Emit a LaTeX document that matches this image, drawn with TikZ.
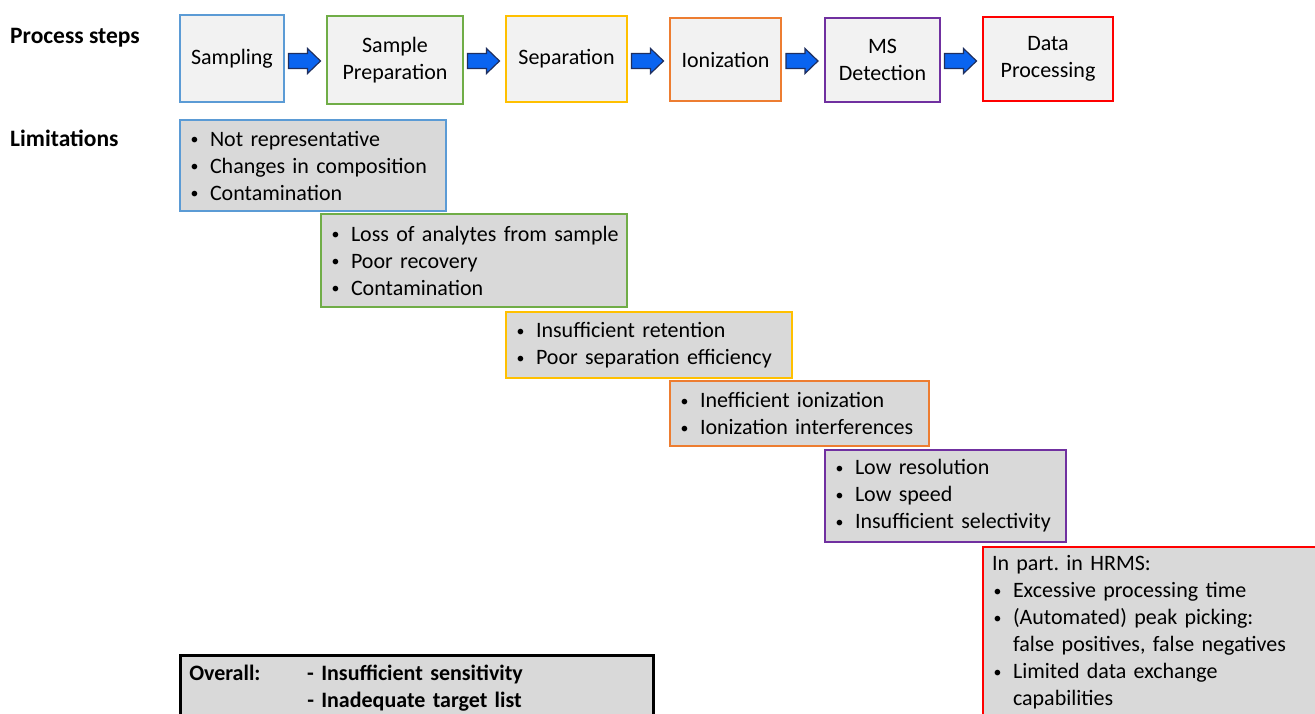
\documentclass[tikz,border=0pt]{standalone}
\usepackage{fontspec}
\setmainfont{Carlito}
\definecolor{cblue}{HTML}{5B9BD5}
\definecolor{cgreen}{HTML}{70AD47}
\definecolor{cyellow}{HTML}{FFC000}
\definecolor{corange}{HTML}{ED7D31}
\definecolor{cpurple}{HTML}{7030A0}
\definecolor{cred}{HTML}{FF0000}
\definecolor{topfill}{HTML}{F2F2F2}
\definecolor{limfill}{HTML}{D9D9D9}
\definecolor{arrfill}{HTML}{0A64F0}
\definecolor{arrline}{HTML}{1F2F5F}
\newcommand{\bl}{\makebox[21pt][l]{\hspace*{1.5pt}\raisebox{1.2pt}{\scalebox{0.72}{\textbullet}}}}
\newcommand{\hang}{\hspace*{21pt}}
\newcommand{\blockarr}[1]{\draw[arrshape] (#1) ++(-16,-7.5) -- ++(19,0) -- ++(0,-5) -- ++(13,12.5) -- ++(-13,12.5) -- ++(0,-5) -- ++(-19,0) -- cycle;}
\tikzset{
  bodyfont/.style={font=\fontsize{22}{27}\selectfont},
  stepbox/.style={draw, fill=topfill, line width=2pt, anchor=north west, inner sep=0pt,
    align=center, bodyfont},
  limbox/.style={draw, fill=limfill, line width=2pt, anchor=north west, inner xsep=9pt, inner ysep=0pt,
    align=left, bodyfont},
  arrshape/.style={draw=arrline, fill=arrfill, line width=1.2pt, line join=miter},
  sidelabel/.style={anchor=west, inner sep=0pt, font=\fontsize{23.5}{27}\selectfont\bfseries}
}
\begin{document}
\frenchspacing
\begin{tikzpicture}[x=1pt,y=-1pt]
\useasboundingbox (0,0) rectangle (1315,714);
\clip (0,0) rectangle (1315,714);
\node[sidelabel] (lp) at (10,38) {Process steps};
\node[sidelabel] (ll) at (10,138) {Limitations};
% process steps
\node[stepbox, draw=cblue, minimum width=104pt, minimum height=87pt] (s1) at (179,14) {Sampling};
\node[stepbox, draw=cgreen, minimum width=136pt, minimum height=88pt] (s2) at (326,15) {Sample\\Preparation};
\node[stepbox, draw=cyellow, minimum width=121pt, minimum height=86pt] (s3) at (505,15) {Separation};
\node[stepbox, draw=corange, minimum width=111pt, minimum height=83pt] (s4) at (669,17) {Ionization};
\node[stepbox, draw=cpurple, minimum width=115pt, minimum height=84pt] (s5) at (824,17) {MS\\Detection};
\node[stepbox, draw=cred, minimum width=130pt, minimum height=84pt] (s6) at (982,16) {Data\\Processing};
% block arrows
\coordinate (a1) at (304.5,61);
\coordinate (a2) at (483.5,61);
\coordinate (a3) at (647.5,61);
\coordinate (a4) at (802,61);
\coordinate (a5) at (960.5,61);
\blockarr{a1}\blockarr{a2}\blockarr{a3}\blockarr{a4}\blockarr{a5}
% limitations
\node[limbox, draw=cblue, minimum height=91pt, text width=248pt] (l1) at (179,119)
  {\mbox{\bl Not representative}\\\mbox{\bl Changes in composition}\\\mbox{\bl Contamination}};
\node[limbox, draw=cgreen, minimum height=93pt, text width=288pt] (l2) at (320,213)
  {\mbox{\bl Loss of analytes from sample}\\\mbox{\bl Poor recovery}\\\mbox{\bl Contamination}};
\node[limbox, draw=cyellow, minimum height=66pt, text width=268pt] (l3) at (505,311)
  {\mbox{\bl Insufficient retention}\\\mbox{\bl Poor separation efficiency}};
\node[limbox, draw=corange, minimum height=65pt, text width=241pt] (l4) at (669,380)
  {\mbox{\bl Inefficient ionization}\\\mbox{\bl Ionization interferences}};
\node[limbox, draw=cpurple, minimum height=92pt, text width=223pt] (l5) at (824,449)
  {\mbox{\bl Low resolution}\\\mbox{\bl Low speed}\\\mbox{\bl Insufficient selectivity}};
\node[limbox, draw=cred, minimum height=170pt, text width=322pt] (l6) at (982,546)
  {\mbox{In part. in HRMS:}\\\mbox{\bl Excessive processing time}\\\mbox{\bl (Automated) peak picking:}\\\mbox{\hang false positives, false negatives}\\\mbox{\bl Limited data exchange}\\\mbox{\hang capabilities}};
\node[limbox, draw=black, line width=2.5pt, minimum height=65pt, text width=455pt, font=\fontsize{22}{27}\selectfont\bfseries] (ov) at (179,654)
  {\mbox{\makebox[118pt][l]{Overall:}- Insufficient sensitivity}\\\mbox{\hspace*{118pt}- Inadequate target list}};
\end{tikzpicture}
\end{document}
